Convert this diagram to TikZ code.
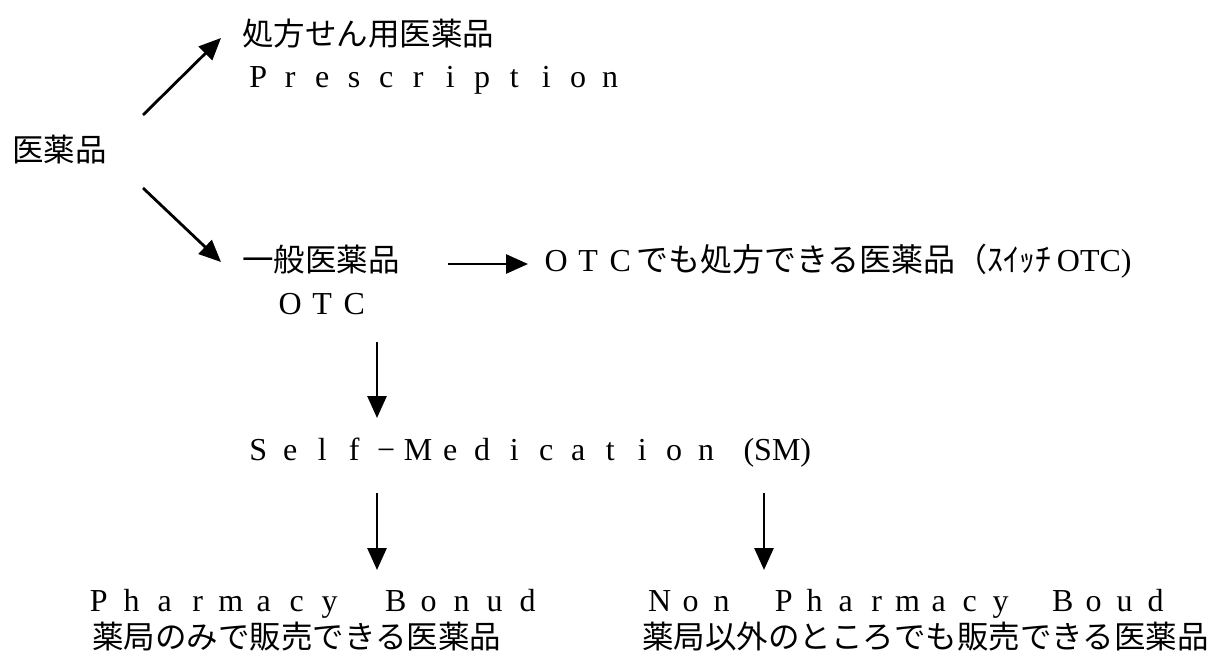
\documentclass[tikz,border=0pt]{standalone}
\usepackage{fontspec}
\setmainfont{Liberation Serif}
\newfontfamily\jp{Noto Sans CJK JP}
\usetikzlibrary{arrows.meta}
\newlength\fwd
\setlength\fwd{32pt}
\makeatletter
\def\fw#1{\fw@loop#1\fw@end}
\def\fw@loop#1{\ifx#1\fw@end\else\makebox[\fwd]{#1}\expandafter\fw@loop\fi}
\makeatother
\newcommand\jpfont{\jp\fontsize{31.5}{36}\selectfont}
\newcommand\lafont{\fontsize{32}{36}\selectfont}
\begin{document}
\begin{tikzpicture}[x=1pt,y=-1pt,
  arr/.style={line width=2.8pt,-{Triangle[length=22pt,width=19pt]}},
  jtxt/.style={anchor=base west,inner sep=0pt,font=\jpfont},
  ltxt/.style={anchor=base west,inner sep=0pt,font=\lafont}]
\fill[white] (0,0) rectangle (1214,656);
\useasboundingbox (0,0) rectangle (1214,656);
\node[jtxt] (rx) at (242,45) {処方せん用医薬品};
\node[ltxt] (presc) at (242,87) {\fw{Prescription}};
\node[jtxt] (iyaku) at (12,161) {医薬品};
\node[jtxt] (ippan) at (242,271) {一般医薬品};
\node[ltxt] (otc) at (242,314) {\fw{~OTC}};
\node[ltxt] (sw) at (540,271) {\fw{OTC}{\jp でも処方できる医薬品（ｽｲｯﾁ}\,OTC)};
\node[ltxt] (sm) at (242,460) {\fw{Self−Medication}\makebox[\fwd][r]{(}SM)};
\node[ltxt] (pb) at (82,611) {\setlength\fwd{33pt}\fw{Pharmacy~Bonud}};
\node[jtxt] (pbj) at (92,648) {薬局のみで販売できる医薬品};
\node[ltxt] (npb) at (644,611) {\setlength\fwd{31pt}\fw{Non~Pharmacy~Boud}};
\node[jtxt] (npbj) at (642,648) {薬局以外のところでも販売できる医薬品};
\coordinate (a1s) at (143,115); \coordinate (a1e) at (221,38);
\coordinate (a2s) at (143,188); \coordinate (a2e) at (221,262);
\coordinate (a3s) at (448,264); \coordinate (a3e) at (528,264);
\coordinate (a4s) at (377,342); \coordinate (a4e) at (377,418);
\coordinate (a5s) at (377,493); \coordinate (a5e) at (377,570);
\coordinate (a6s) at (764,493); \coordinate (a6e) at (764,570);
\draw[arr] (a1s) -- (a1e);
\draw[arr] (a2s) -- (a2e);
\draw[arr] (a3s) -- (a3e);
\draw[arr] (a4s) -- (a4e);
\draw[arr] (a5s) -- (a5e);
\draw[arr] (a6s) -- (a6e);
\end{tikzpicture}
\end{document}
